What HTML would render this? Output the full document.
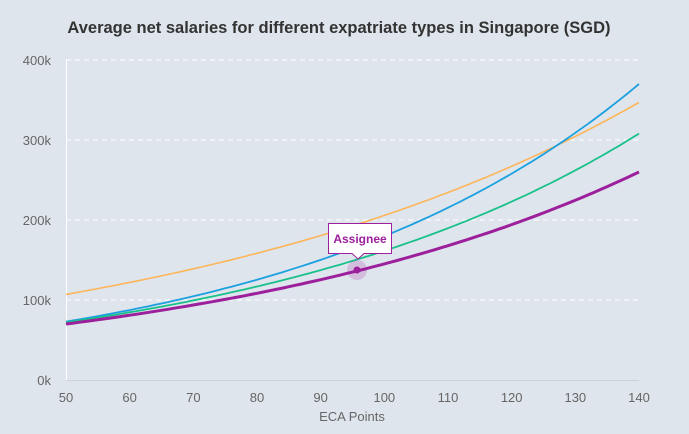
<!DOCTYPE html><html><head><style>body{margin:0;background:#dfe5ec;}svg{display:block;font-family:"Liberation Sans",sans-serif}</style></head><body>
<svg id="s" width="689" height="434" xmlns="http://www.w3.org/2000/svg">
<rect width="689" height="434" fill="#dfe5ec"/>
<text x="339" y="33" text-anchor="middle" font-size="16.5" font-weight="bold" fill="#333">Average net salaries for different expatriate types in Singapore (SGD)</text>
<g stroke="#fff" stroke-dasharray="5,4" stroke-width="1">
<line x1="66" x2="639" y1="60" y2="60"/><line x1="66" x2="639" y1="140" y2="140"/><line x1="66" x2="639" y1="220" y2="220"/><line x1="66" x2="639" y1="300" y2="300"/></g>
<line x1="66.5" x2="66.5" y1="60" y2="380" stroke="#fff" stroke-width="1"/>
<line x1="66" x2="639" y1="380.5" y2="380.5" stroke="#ccd3db"/>
<g font-size="13" fill="#666" text-anchor="end"><text x="51" y="65">400k</text><text x="51" y="145">300k</text><text x="51" y="225">200k</text><text x="51" y="305">100k</text><text x="51" y="385">0k</text></g>
<g id="xt" font-size="13" fill="#666" text-anchor="middle"></g>
<text x="352" y="421" text-anchor="middle" font-size="13" fill="#666">ECA Points</text>
<g id="lines" fill="none"></g>
<circle cx="357" cy="270" r="10" fill="#a020a0" opacity="0.2"/>
<circle cx="357" cy="270" r="3.5" fill="#9c1f9c"/>
<path d="M328.5,223.5 H391.5 V253.5 H364 L358,259 L352,253.5 H328.5 Z" fill="#fff" stroke="#9c1f9c" stroke-width="1"/>
<text x="360" y="243" text-anchor="middle" font-size="12" font-weight="bold" fill="#9c1f9c">Assignee</text>
</svg>
<script>
var X=function(v){return 66+(v-50)*573/90},Y=function(v){return 380-v*0.8};
var xt=document.getElementById('xt'),h='';
for(var v=50;v<=140;v+=10){h+='<text x="'+X(v)+'" y="402">'+v+'</text>';}
xt.innerHTML=h;
var S=[["#fdb55a",107,347,1.6],["#1ba0e0",73,370,1.8],["#19c18a",72,308,1.8],["#9c1f9c",70,260,3]];
var g='';S.forEach(function(s){var d='';for(var v=50;v<=140;v+=1){var val=s[1]*Math.pow(s[2]/s[1],(v-50)/90);d+=(v==50?'M':'L')+X(v).toFixed(1)+','+Y(val).toFixed(1);}g+='<path d="'+d+'" stroke="'+s[0]+'" stroke-width="'+s[3]+'"/>';});
document.getElementById('lines').innerHTML=g;
</script>
</body></html>
